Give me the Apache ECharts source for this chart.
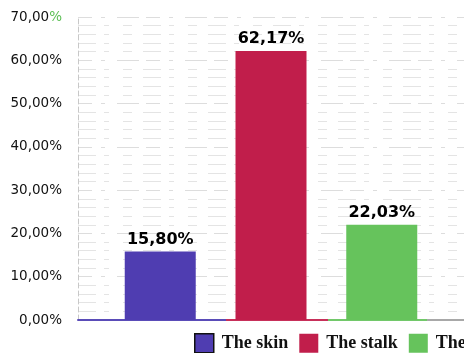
<!DOCTYPE html>
<html>
<head>
<meta charset="utf-8">
<script src="https://cdn.jsdelivr.net/npm/echarts@6/dist/echarts.min.js"></script>
<style>
  html, body { margin: 0; padding: 0; background: #fff; }
  #chart { width: 464px; height: 353px; }
</style>
</head>
<body>
<div id="chart"></div>
<script>
// Share of each part (%)
const parts = ['The skin', 'The stalk', 'The seeds'];
const shares = [15.80, 62.17, 22.03];
const colors = ['#4f3db1', '#c11e4b', '#66c35c'];
const yTicks = [0, 10, 20, 30, 40, 50, 60, 70];

const fmt = v => v.toFixed(2).replace('.', ',');

const chart = echarts.init(document.getElementById('chart'), null, { renderer: 'canvas' });

const series = parts.map((name, i) => ({
  name: name,
  type: 'bar',
  barWidth: 71,
  barGap: '56%',
  data: [shares[i]],
  itemStyle: { color: colors[i] },
  label: {
    show: true,
    position: 'top',
    distance: 4,
    color: '#000',
    fontFamily: 'DejaVu Sans',
    fontWeight: 'bold',
    fontSize: 16,
    formatter: p => fmt(p.value) + '%'
  }
}));

chart.setOption({
  animation: false,
  backgroundColor: '#fff',
  grid: { left: 78, right: -10, top: 17, bottom: 33 },
  legend: {
    left: 189,
    top: 328,
    width: 600,
    itemWidth: 19,
    itemHeight: 19,
    itemGap: 11,
    icon: 'rect',
    textStyle: {
      fontFamily: 'Liberation Serif',
      fontWeight: 'bold',
      fontSize: 18,
      color: '#111',
      padding: [2, 0, 0, 3]
    },
    data: [
      { name: parts[0], itemStyle: { borderColor: '#111', borderWidth: 1.5 } },
      { name: parts[1] },
      { name: parts[2] }
    ]
  },
  xAxis: {
    type: 'category',
    data: [''],
    axisTick: { show: false },
    axisLabel: { show: false },
    axisLine: {
      lineStyle: {
        width: 2,
        color: new echarts.graphic.LinearGradient(0, 0, 1, 0, [
          { offset: 0, color: '#5a4cb8' },
          { offset: 0.385, color: '#5a4cb8' },
          { offset: 0.385, color: '#c7305a' },
          { offset: 0.645, color: '#c7305a' },
          { offset: 0.645, color: '#72c86a' },
          { offset: 0.9, color: '#72c86a' },
          { offset: 0.9, color: '#a8a8a8' },
          { offset: 1, color: '#a8a8a8' }
        ])
      }
    }
  },
  yAxis: {
    type: 'value',
    min: yTicks[0],
    max: yTicks[yTicks.length - 1],
    interval: 10,
    axisLine: { show: true, lineStyle: { color: '#c8c8c8', type: [5, 3] } },
    axisTick: { show: false },
    axisLabel: {
      margin: 16,
      fontFamily: 'DejaVu Sans',
      fontSize: 13.5,
      color: '#111',
      formatter: v => v === yTicks[yTicks.length - 1]
        ? '{n|' + fmt(v) + '}{g|%}'
        : fmt(v) + '%',
      rich: {
        n: { fontFamily: 'DejaVu Sans', fontSize: 13.5, color: '#111' },
        g: { fontFamily: 'DejaVu Sans', fontSize: 13.5, color: '#5cbf55' }
      }
    },
    splitLine: { show: true, lineStyle: { color: '#d2d2d2', opacity: 0.75, type: [14, 9, 4, 12, 22, 7] } },
    minorTick: { show: false, splitNumber: 5 },
    minorSplitLine: { show: true, lineStyle: { color: '#d8d8d8', opacity: 0.7, type: [18, 8, 5, 14, 9, 11] } }
  },
  series: series
});
</script>
</body>
</html>
